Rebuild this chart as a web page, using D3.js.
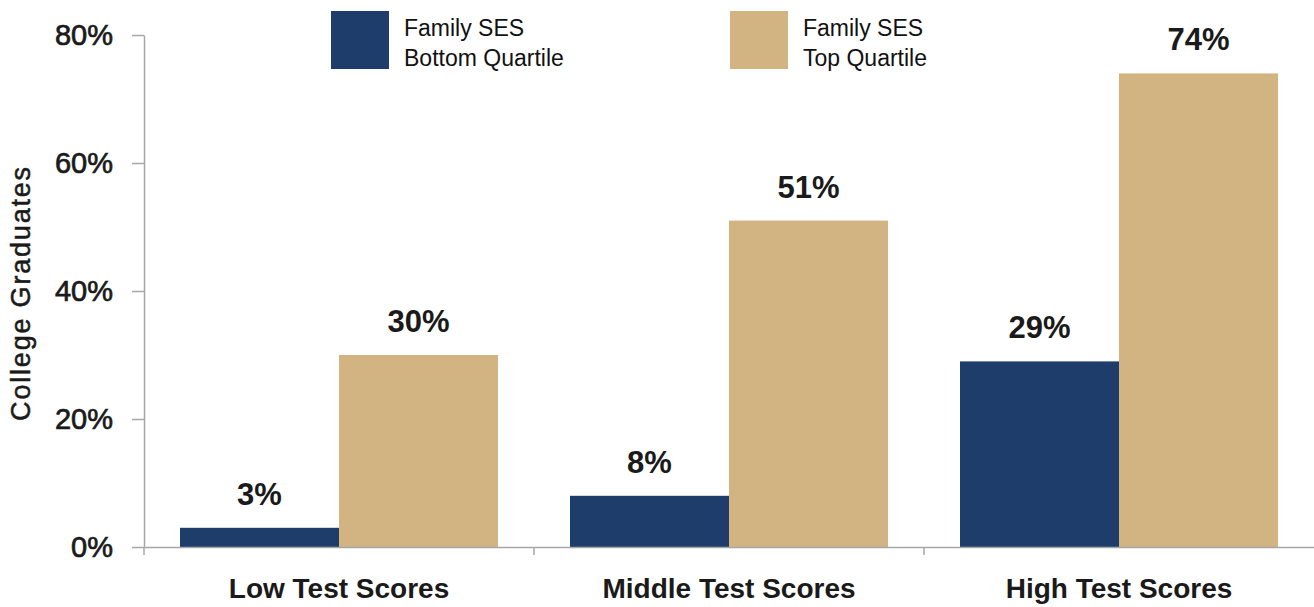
<!DOCTYPE html>
<html>
<head>
<meta charset="utf-8">
<script src="https://cdn.jsdelivr.net/npm/d3@7"></script>
<style>
	body { margin: 0; background: #fff; }
	svg { display: block; font-family: "Liberation Sans", Arial, sans-serif; }
</style>
</head>
<body>
<div id="chart"></div>
<script>
// data
const categories = ["Low Test Scores", "Middle Test Scores", "High Test Scores"];
const seriesKeys = ["bottom", "top"];
const seriesNames = [["Family SES", "Bottom Quartile"], ["Family SES", "Top Quartile"]];
const bottomQuartile = [0.03, 0.08, 0.29];
const topQuartile = [0.30, 0.51, 0.74];
const yTicks = [0, 0.2, 0.4, 0.6, 0.8];

function drawChart() {
	const width = 1314;
	const height = 607;
	const colors = ["#1e3d6b", "#d2b483"];
	const axisColor = "#a6a6a6";
	const textColor = "#1a1a1a";

	const rows = categories.map((c, i) => ({
		category: c,
		values: [
			{ key: "bottom", value: bottomQuartile[i] },
			{ key: "top", value: topQuartile[i] },
		],
	}));

	const svg = d3.select("#chart")
		.append("svg")
		.attr("width", width)
		.attr("height", height);

	// scales
	const x0 = d3.scaleBand()
		.domain(categories)
		.range([144, 1314])
		.padding(0);

	const x1 = d3.scaleBand()
		.domain(seriesKeys)
		.range([0, x0.bandwidth()])
		.paddingInner(0)
		.paddingOuter(0.2264);

	const y = d3.scaleLinear()
		.domain([0, 0.8])
		.range([547, 35]);

	const color = d3.scaleOrdinal().domain(seriesKeys).range(colors);

	// bars
	const groups = svg.append("g")
		.selectAll("g")
		.data(rows)
		.join("g")
		.attr("transform", d => `translate(${x0(d.category)},0)`);

	groups.selectAll("rect")
		.data(d => d.values)
		.join("rect")
		.attr("x", d => x1(d.key))
		.attr("y", d => y(d.value))
		.attr("width", x1.bandwidth())
		.attr("height", d => y(0) - y(d.value))
		.attr("fill", d => color(d.key));

	groups.selectAll("text")
		.data(d => d.values)
		.join("text")
		.attr("x", d => x1(d.key) + x1.bandwidth() / 2)
		.attr("y", d => y(d.value) - 23)
		.attr("text-anchor", "middle")
		.attr("font-size", 31)
		.attr("font-weight", "bold")
		.attr("fill", textColor)
		.text(d => d3.format(".0%")(d.value));

	// y axis
	const yAxis = svg.append("g")
		.attr("transform", "translate(144,0)")
		.call(d3.axisLeft(y)
			.tickValues(yTicks)
			.tickFormat(d3.format(".0%"))
			.tickSize(12)
			.tickSizeOuter(0)
			.tickPadding(19));

	yAxis.select(".domain").attr("stroke", axisColor).attr("stroke-width", 1.5);
	yAxis.selectAll(".tick line").attr("stroke", axisColor).attr("stroke-width", 1.5);
	yAxis.selectAll(".tick text")
		.attr("font-size", 29)
		.attr("fill", textColor)
		.attr("stroke", textColor)
		.attr("stroke-width", 0.7)
		.attr("font-family", "Liberation Sans, Arial, sans-serif");

	// x axis
	const xAxis = svg.append("g")
		.attr("transform", `translate(0,${y(0)})`)
		.call(d3.axisBottom(x0).tickSize(0).tickSizeOuter(0));

	xAxis.select(".domain").attr("stroke", axisColor).attr("stroke-width", 1.5);
	xAxis.selectAll(".tick text")
		.attr("y", 51)
		.attr("dy", null)
		.attr("font-size", 28)
		.attr("font-weight", "bold")
		.attr("fill", textColor)
		.attr("font-family", "Liberation Sans, Arial, sans-serif");

	// boundary ticks between categories
	xAxis.selectAll(".boundary")
		.data(categories)
		.join("line")
		.attr("class", "boundary")
		.attr("x1", d => x0(d))
		.attr("x2", d => x0(d))
		.attr("y1", 0)
		.attr("y2", 8)
		.attr("stroke", axisColor)
		.attr("stroke-width", 1.5);

	// y axis title
	svg.append("text")
		.attr("transform", "translate(30,293) rotate(-90)")
		.attr("text-anchor", "middle")
		.attr("font-size", 27)
		.attr("fill", textColor)
		.attr("stroke", textColor)
		.attr("stroke-width", 0.5)
		.attr("letter-spacing", 1.8)
		.text("College Graduates");

	// legend
	const legendX = [331, 730];
	const legend = svg.append("g")
		.selectAll("g")
		.data(seriesKeys)
		.join("g")
		.attr("transform", (d, i) => `translate(${legendX[i]},11)`);

	legend.append("rect")
		.attr("width", 58)
		.attr("height", 58)
		.attr("fill", d => color(d));

	legend.append("text")
		.attr("font-size", 23)
		.attr("fill", "#111")
		.selectAll("tspan")
		.data((d, i) => seriesNames[i])
		.join("tspan")
		.attr("x", 73)
		.attr("y", (d, i) => 25 + i * 30)
		.text(d => d);
}

drawChart();
</script>
</body>
</html>
